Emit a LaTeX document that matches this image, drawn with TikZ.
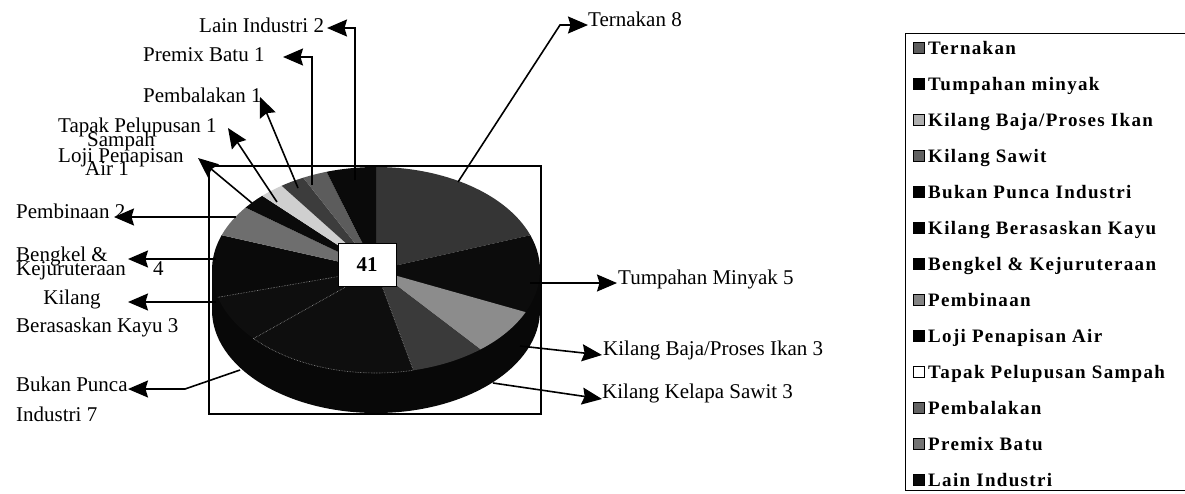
\documentclass[tikz,border=0pt]{standalone}
\usepackage{fontspec}
\setmainfont{Liberation Serif}
\newfontfamily\legfont[LetterSpace=7,BoldFont={Liberation Serif Bold}]{Liberation Serif}
\usetikzlibrary{arrows.meta}
\definecolor{cTern}{HTML}{353535}
\definecolor{cTump}{HTML}{0C0C0C}
\definecolor{cBaja}{HTML}{8C8C8C}
\definecolor{cSawit}{HTML}{3A3A3A}
\definecolor{cBukan}{HTML}{0E0E0E}
\definecolor{cKayu}{HTML}{0E0E0E}
\definecolor{cBengkel}{HTML}{0A0A0A}
\definecolor{cBina}{HTML}{6E6E6E}
\definecolor{cLoji}{HTML}{0A0A0A}
\definecolor{cTapak}{HTML}{CFCFCF}
\definecolor{cBalak}{HTML}{3C3C3C}
\definecolor{cPremix}{HTML}{5C5C5C}
\definecolor{cLain}{HTML}{0A0A0A}
\definecolor{cSide}{HTML}{080808}
\newcommand\pieslice[3]{%
  \path[#3] (0,0) -- ({90-#1*360/41}:164 and 103)
    arc[start angle={90-#1*360/41}, end angle={90-#2*360/41}, x radius=164, y radius=103] -- cycle;}
\newcommand\legitem[4]{%
  \node[legsq, fill=#2] (sq#1) at (918.5, {48+36*#1}) {};
  \node[legtext] (lt#1) at (928, {54+36*#1}) {#3};}
\begin{document}
\begin{tikzpicture}[x=1pt,y=1pt,yscale=-1,
  lbl/.style={font=\fontsize{21}{21}\selectfont, inner sep=0pt, anchor=base west},
  lblc/.style={lbl, anchor=base},
  callout/.style={line width=1.6pt, -{Stealth[length=20pt,width=17pt,inset=2.5pt]}},
  seam/.style={draw=white!60!black, line width=0.6pt, densely dotted},
  legsq/.style={draw=black, line width=0.8pt, minimum size=11pt, inner sep=0pt},
  legtext/.style={font=\legfont\bfseries\fontsize{19}{19}\selectfont, inner sep=0pt, anchor=base west}]
\useasboundingbox (0,0) rectangle (1185,493);
\fill[white] (0,0) rectangle (1185,493);

% plot area
\draw[line width=1.3pt] (209,166) rectangle (541,414);

% pie
\begin{scope}[shift={(376,270)}, yscale=-1]
  \fill[cSide] (-164,0) -- (-164,-40) arc[start angle=180, end angle=360, x radius=164, y radius=103] -- (164,0) -- cycle;
  \pieslice{0}{8}{fill=cTern}
  \pieslice{8}{13}{fill=cTump}
  \pieslice{13}{16}{fill=cBaja}
  \pieslice{16}{19}{fill=cSawit}
  \pieslice{19}{26}{fill=cBukan}
  \pieslice{26}{29}{fill=cKayu}
  \pieslice{29}{33}{fill=cBengkel}
  \pieslice{33}{35}{fill=cBina}
  \pieslice{35}{36}{fill=cLoji}
  \pieslice{36}{37}{fill=cTapak}
  \pieslice{37}{38}{fill=cBalak}
  \pieslice{38}{39}{fill=cPremix}
  \pieslice{39}{41}{fill=cLain}
  \pieslice{19}{26}{seam}
  \draw[seam] (0,0) -- ({90-29*360/41}:164 and 103);
\end{scope}

\node[draw, fill=white, line width=1pt, minimum width=58pt, minimum height=43pt,
      font=\bfseries\fontsize{21}{21}\selectfont] (total) at (367,265) {41};

% labels
\node[lbl] (lain) at (199,32) {Lain Industri 2};
\node[lbl] (premix) at (143,61) {Premix Batu 1};
\node[lbl] (balak) at (143,102) {Pembalakan 1};
\node[lbl] (tapak) at (58,132) {Tapak Pelupusan 1};
\node[lblc] (tapak2) at (121,146) {Sampah};
\node[lbl] (loji) at (58,162) {Loji Penapisan};
\node[lblc] (loji2) at (107,175) {Air 1};
\node[lbl] (bina) at (16,218) {Pembinaan 2};
\node[lbl] (bengkel) at (16,261) {Bengkel \&};
\node[lbl] (bengkel2) at (16,275) {Kejuruteraan};
\node[lbl] (bengkel3) at (153,275) {4};
\node[lblc] (kayu) at (72,304) {Kilang};
\node[lbl] (kayu2) at (16,332) {Berasaskan Kayu 3};
\node[lbl] (bukan) at (16,391) {Bukan Punca};
\node[lbl] (bukan2) at (16,421) {Industri 7};
\node[lbl] (tern) at (588,26) {Ternakan 8};
\node[lbl] (tump) at (618,284) {Tumpahan Minyak 5};
\node[lbl] (baja) at (603,355) {Kilang Baja/Proses Ikan 3};
\node[lbl] (sawit) at (602,398) {Kilang Kelapa Sawit 3};

% connector coordinates
\coordinate (pLain) at (355,180);     \coordinate (tLain) at (327,28);
\coordinate (pPremix) at (312,185);   \coordinate (tPremix) at (283,57);
\coordinate (pBalak) at (298,188);    \coordinate (tBalak) at (260,97);
\coordinate (pTapak) at (277,202);    \coordinate (tTapak) at (228,128);
\coordinate (pLoji) at (252,203);     \coordinate (tLoji) at (198,158);
\coordinate (pBina) at (236,217);     \coordinate (tBina) at (114,217);
\coordinate (pBengkel) at (216,259);  \coordinate (tBengkel) at (128,259);
\coordinate (pKayu) at (216,302);     \coordinate (tKayu) at (128,302);
\coordinate (pBukan) at (240,370);    \coordinate (kBukan) at (185,389); \coordinate (tBukan) at (128,389);
\coordinate (pTern) at (458,182);     \coordinate (kTern) at (560,25);   \coordinate (tTern) at (588,25);
\coordinate (pTump) at (530,283);     \coordinate (tTump) at (617,283);
\coordinate (pBaja) at (520,346);     \coordinate (tBaja) at (602,355);
\coordinate (pSawit) at (493,383);    \coordinate (tSawit) at (602,399);

\draw[callout] (pLain) |- (tLain);
\draw[callout] (pPremix) |- (tPremix);
\draw[callout] (pBalak) -- (tBalak);
\draw[callout] (pTapak) -- (tTapak);
\draw[callout] (pLoji) -- (tLoji);
\draw[callout] (pBina) -- (tBina);
\draw[callout] (pBengkel) -- (tBengkel);
\draw[callout] (pKayu) -- (tKayu);
\draw[callout] (pBukan) -- (kBukan) -- (tBukan);
\draw[callout] (pTern) -- (kTern) -- (tTern);
\draw[callout] (pTump) -- (tTump);
\draw[callout] (pBaja) -- (tBaja);
\draw[callout] (pSawit) -- (tSawit);

% legend
\draw[line width=1pt] (1195,33) -- (905,33) -- (905,490) -- (1195,490);
\legitem{0}{cTern!80!white}{Ternakan}{}
\legitem{1}{black}{Tumpahan minyak}{}
\legitem{2}{cBaja!70!white}{Kilang Baja/Proses Ikan}{}
\legitem{3}{cSawit!80!white}{Kilang Sawit}{}
\legitem{4}{black}{Bukan Punca Industri}{}
\legitem{5}{black}{Kilang Berasaskan Kayu}{}
\legitem{6}{black}{Bengkel \& Kejuruteraan}{}
\legitem{7}{cBina!85!white}{Pembinaan}{}
\legitem{8}{black}{Loji Penapisan Air}{}
\legitem{9}{white}{Tapak Pelupusan Sampah}{}
\legitem{10}{cBalak!80!white}{Pembalakan}{}
\legitem{11}{cPremix!85!white}{Premix Batu}{}
\legitem{12}{cLain}{Lain Industri}{}
\end{tikzpicture}
\end{document}
